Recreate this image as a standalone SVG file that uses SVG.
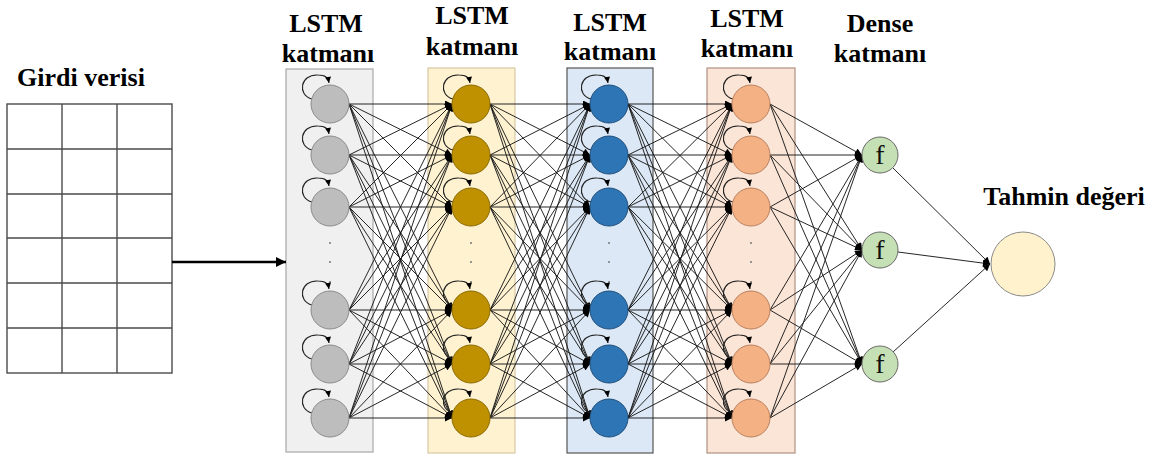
<svg xmlns="http://www.w3.org/2000/svg" xmlns:xlink="http://www.w3.org/1999/xlink" width="1159" height="455" viewBox="0 0 1159 455">
<style>
.lbl{font-family:"Liberation Serif","Times New Roman",serif;font-weight:bold;font-size:26px;fill:#000;text-anchor:middle}
.ftxt{font-family:"Liberation Serif","Times New Roman",serif;font-size:28px;fill:#111;text-anchor:middle}
.grid{fill:none;stroke:#4a4a4a;stroke-width:1.4}
.cn line{stroke:#1a1a1a;stroke-width:0.95;marker-end:url(#ah)}
.g{fill:#bdbdbd;stroke:#8a8a8a;stroke-width:1}
.y{fill:#bf9000;stroke:#8a6a00;stroke-width:1}
.b{fill:#2e75b6;stroke:#1f4e79;stroke-width:1}
.o{fill:#f4b183;stroke:#b88060;stroke-width:1}
.f{fill:#c5e0b4;stroke:#6a6a6a;stroke-width:1}
.dot{fill:#777}
</style>
<defs>
<marker id="ah" viewBox="0 0 10 10" refX="10" refY="5" markerWidth="8" markerHeight="7" markerUnits="userSpaceOnUse" orient="auto"><path d="M0,0 L10,5 L0,10 z" fill="#000"/></marker>
<marker id="la" viewBox="0 0 10 10" refX="10" refY="5" markerWidth="7" markerHeight="6" markerUnits="userSpaceOnUse" orient="auto"><path d="M0,0 L10,5 L0,10 z" fill="#000"/></marker>
<marker id="big" viewBox="0 0 10 10" refX="10" refY="5" markerWidth="12" markerHeight="10" markerUnits="userSpaceOnUse" orient="auto"><path d="M0,0 L10,5 L0,10 z" fill="#000"/></marker>
<path id="loop" d="M-18,-5 C-33,-9 -30,-30 -12,-29 C-5,-29 -2,-27 -1,-21" fill="none" stroke="#222" stroke-width="1.1" marker-end="url(#la)"/>
</defs>
<rect width="1159" height="455" fill="#fff"/>

<g id="labels">
<text class="lbl" x="81" y="86">Girdi verisi</text>
<text class="lbl" x="326" y="32">LSTM</text>
<text class="lbl" x="328" y="62">katmanı</text>
<text class="lbl" x="472" y="24">LSTM</text>
<text class="lbl" x="472" y="55">katmanı</text>
<text class="lbl" x="610" y="31">LSTM</text>
<text class="lbl" x="610" y="60">katmanı</text>
<text class="lbl" x="747" y="27">LSTM</text>
<text class="lbl" x="747" y="57">katmanı</text>
<text class="lbl" x="880" y="32">Dense</text>
<text class="lbl" x="880" y="62">katmanı</text>
<text class="lbl" x="1064" y="205">Tahmin değeri</text>
</g>

<g id="input-grid">
<rect class="grid" x="7" y="104" width="165" height="269"/>
<line class="grid" x1="62" y1="104" x2="62" y2="373"/>
<line class="grid" x1="117" y1="104" x2="117" y2="373"/>
<line class="grid" x1="7" y1="149" x2="172" y2="149"/>
<line class="grid" x1="7" y1="194" x2="172" y2="194"/>
<line class="grid" x1="7" y1="238" x2="172" y2="238"/>
<line class="grid" x1="7" y1="283" x2="172" y2="283"/>
<line class="grid" x1="7" y1="328" x2="172" y2="328"/>
</g>

<g id="layer-boxes">
<rect x="286" y="69" width="87" height="383" fill="#f0f0f0" stroke="#a8a8a8" stroke-width="1.2"/>
<rect x="428" y="68" width="87" height="385" fill="#fef2d0" stroke="#d8c9a4" stroke-width="1.2"/>
<rect x="567" y="68" width="86" height="385" fill="#dce8f5" stroke="#555" stroke-width="1.2"/>
<rect x="707" y="68" width="88" height="385" fill="#fbe5d6" stroke="#b09080" stroke-width="1.2"/>
</g>

<g id="connectors" class="cn">
<line x1="172" y1="262" x2="286" y2="262" style="stroke:#000;stroke-width:2.5;marker-end:url(#big)"/>
<line x1="349" y1="104" x2="452" y2="104"/><line x1="349" y1="104" x2="452" y2="155"/><line x1="349" y1="104" x2="452" y2="207"/><line x1="349" y1="104" x2="452" y2="310"/><line x1="349" y1="104" x2="452" y2="364"/><line x1="349" y1="104" x2="452" y2="418"/>
<line x1="349" y1="155" x2="452" y2="104"/><line x1="349" y1="155" x2="452" y2="155"/><line x1="349" y1="155" x2="452" y2="207"/><line x1="349" y1="155" x2="452" y2="310"/><line x1="349" y1="155" x2="452" y2="364"/><line x1="349" y1="155" x2="452" y2="418"/>
<line x1="349" y1="207" x2="452" y2="104"/><line x1="349" y1="207" x2="452" y2="155"/><line x1="349" y1="207" x2="452" y2="207"/><line x1="349" y1="207" x2="452" y2="310"/><line x1="349" y1="207" x2="452" y2="364"/><line x1="349" y1="207" x2="452" y2="418"/>
<line x1="349" y1="310" x2="452" y2="104"/><line x1="349" y1="310" x2="452" y2="155"/><line x1="349" y1="310" x2="452" y2="207"/><line x1="349" y1="310" x2="452" y2="310"/><line x1="349" y1="310" x2="452" y2="364"/><line x1="349" y1="310" x2="452" y2="418"/>
<line x1="349" y1="364" x2="452" y2="104"/><line x1="349" y1="364" x2="452" y2="155"/><line x1="349" y1="364" x2="452" y2="207"/><line x1="349" y1="364" x2="452" y2="310"/><line x1="349" y1="364" x2="452" y2="364"/><line x1="349" y1="364" x2="452" y2="418"/>
<line x1="349" y1="418" x2="452" y2="104"/><line x1="349" y1="418" x2="452" y2="155"/><line x1="349" y1="418" x2="452" y2="207"/><line x1="349" y1="418" x2="452" y2="310"/><line x1="349" y1="418" x2="452" y2="364"/><line x1="349" y1="418" x2="452" y2="418"/>

<line x1="490" y1="104" x2="590" y2="104"/><line x1="490" y1="104" x2="590" y2="155"/><line x1="490" y1="104" x2="590" y2="207"/><line x1="490" y1="104" x2="590" y2="310"/><line x1="490" y1="104" x2="590" y2="364"/><line x1="490" y1="104" x2="590" y2="418"/>
<line x1="490" y1="155" x2="590" y2="104"/><line x1="490" y1="155" x2="590" y2="155"/><line x1="490" y1="155" x2="590" y2="207"/><line x1="490" y1="155" x2="590" y2="310"/><line x1="490" y1="155" x2="590" y2="364"/><line x1="490" y1="155" x2="590" y2="418"/>
<line x1="490" y1="207" x2="590" y2="104"/><line x1="490" y1="207" x2="590" y2="155"/><line x1="490" y1="207" x2="590" y2="207"/><line x1="490" y1="207" x2="590" y2="310"/><line x1="490" y1="207" x2="590" y2="364"/><line x1="490" y1="207" x2="590" y2="418"/>
<line x1="490" y1="310" x2="590" y2="104"/><line x1="490" y1="310" x2="590" y2="155"/><line x1="490" y1="310" x2="590" y2="207"/><line x1="490" y1="310" x2="590" y2="310"/><line x1="490" y1="310" x2="590" y2="364"/><line x1="490" y1="310" x2="590" y2="418"/>
<line x1="490" y1="364" x2="590" y2="104"/><line x1="490" y1="364" x2="590" y2="155"/><line x1="490" y1="364" x2="590" y2="207"/><line x1="490" y1="364" x2="590" y2="310"/><line x1="490" y1="364" x2="590" y2="364"/><line x1="490" y1="364" x2="590" y2="418"/>
<line x1="490" y1="418" x2="590" y2="104"/><line x1="490" y1="418" x2="590" y2="155"/><line x1="490" y1="418" x2="590" y2="207"/><line x1="490" y1="418" x2="590" y2="310"/><line x1="490" y1="418" x2="590" y2="364"/><line x1="490" y1="418" x2="590" y2="418"/>

<line x1="628" y1="104" x2="732" y2="104"/><line x1="628" y1="104" x2="732" y2="155"/><line x1="628" y1="104" x2="732" y2="207"/><line x1="628" y1="104" x2="732" y2="310"/><line x1="628" y1="104" x2="732" y2="364"/><line x1="628" y1="104" x2="732" y2="418"/>
<line x1="628" y1="155" x2="732" y2="104"/><line x1="628" y1="155" x2="732" y2="155"/><line x1="628" y1="155" x2="732" y2="207"/><line x1="628" y1="155" x2="732" y2="310"/><line x1="628" y1="155" x2="732" y2="364"/><line x1="628" y1="155" x2="732" y2="418"/>
<line x1="628" y1="207" x2="732" y2="104"/><line x1="628" y1="207" x2="732" y2="155"/><line x1="628" y1="207" x2="732" y2="207"/><line x1="628" y1="207" x2="732" y2="310"/><line x1="628" y1="207" x2="732" y2="364"/><line x1="628" y1="207" x2="732" y2="418"/>
<line x1="628" y1="310" x2="732" y2="104"/><line x1="628" y1="310" x2="732" y2="155"/><line x1="628" y1="310" x2="732" y2="207"/><line x1="628" y1="310" x2="732" y2="310"/><line x1="628" y1="310" x2="732" y2="364"/><line x1="628" y1="310" x2="732" y2="418"/>
<line x1="628" y1="364" x2="732" y2="104"/><line x1="628" y1="364" x2="732" y2="155"/><line x1="628" y1="364" x2="732" y2="207"/><line x1="628" y1="364" x2="732" y2="310"/><line x1="628" y1="364" x2="732" y2="364"/><line x1="628" y1="364" x2="732" y2="418"/>
<line x1="628" y1="418" x2="732" y2="104"/><line x1="628" y1="418" x2="732" y2="155"/><line x1="628" y1="418" x2="732" y2="207"/><line x1="628" y1="418" x2="732" y2="310"/><line x1="628" y1="418" x2="732" y2="364"/><line x1="628" y1="418" x2="732" y2="418"/>

<line x1="770" y1="104" x2="862" y2="155"/><line x1="770" y1="104" x2="862" y2="250"/><line x1="770" y1="104" x2="862" y2="364"/>
<line x1="770" y1="155" x2="862" y2="155"/><line x1="770" y1="155" x2="862" y2="250"/><line x1="770" y1="155" x2="862" y2="364"/>
<line x1="770" y1="207" x2="862" y2="155"/><line x1="770" y1="207" x2="862" y2="250"/><line x1="770" y1="207" x2="862" y2="364"/>
<line x1="770" y1="310" x2="862" y2="155"/><line x1="770" y1="310" x2="862" y2="250"/><line x1="770" y1="310" x2="862" y2="364"/>
<line x1="770" y1="364" x2="862" y2="155"/><line x1="770" y1="364" x2="862" y2="250"/><line x1="770" y1="364" x2="862" y2="364"/>
<line x1="770" y1="418" x2="862" y2="155"/><line x1="770" y1="418" x2="862" y2="250"/><line x1="770" y1="418" x2="862" y2="364"/>

<line x1="893" y1="168" x2="990" y2="264"/>
<line x1="898" y1="252" x2="990" y2="264"/>
<line x1="893" y1="352" x2="990" y2="264"/>
</g>

<g id="layer1">
<g id="l1n1"><use xlink:href="#loop" transform="translate(330,104)"/><circle class="g" cx="330" cy="104" r="19"/></g>
<g id="l1n2"><use xlink:href="#loop" transform="translate(330,155)"/><circle class="g" cx="330" cy="155" r="19"/></g>
<g id="l1n3"><use xlink:href="#loop" transform="translate(330,207)"/><circle class="g" cx="330" cy="207" r="19"/></g>
<g id="l1dots"><circle class="dot" cx="330" cy="243" r="1"/><circle class="dot" cx="330" cy="262" r="1"/><circle class="dot" cx="330" cy="282" r="1"/></g>
<g id="l1n4"><use xlink:href="#loop" transform="translate(330,310)"/><circle class="g" cx="330" cy="310" r="19"/></g>
<g id="l1n5"><use xlink:href="#loop" transform="translate(330,364)"/><circle class="g" cx="330" cy="364" r="19"/></g>
<g id="l1n6"><use xlink:href="#loop" transform="translate(330,418)"/><circle class="g" cx="330" cy="418" r="19"/></g>
</g>

<g id="layer2">
<g id="l2n1"><use xlink:href="#loop" transform="translate(471,104)"/><circle class="y" cx="471" cy="104" r="19"/></g>
<g id="l2n2"><use xlink:href="#loop" transform="translate(471,155)"/><circle class="y" cx="471" cy="155" r="19"/></g>
<g id="l2n3"><use xlink:href="#loop" transform="translate(471,207)"/><circle class="y" cx="471" cy="207" r="19"/></g>
<g id="l2dots"><circle class="dot" cx="471" cy="243" r="1"/><circle class="dot" cx="471" cy="262" r="1"/><circle class="dot" cx="471" cy="282" r="1"/></g>
<g id="l2n4"><use xlink:href="#loop" transform="translate(471,310)"/><circle class="y" cx="471" cy="310" r="19"/></g>
<g id="l2n5"><use xlink:href="#loop" transform="translate(471,364)"/><circle class="y" cx="471" cy="364" r="19"/></g>
<g id="l2n6"><use xlink:href="#loop" transform="translate(471,418)"/><circle class="y" cx="471" cy="418" r="19"/></g>
</g>

<g id="layer3">
<g id="l3n1"><use xlink:href="#loop" transform="translate(609,104)"/><circle class="b" cx="609" cy="104" r="19"/></g>
<g id="l3n2"><use xlink:href="#loop" transform="translate(609,155)"/><circle class="b" cx="609" cy="155" r="19"/></g>
<g id="l3n3"><use xlink:href="#loop" transform="translate(609,207)"/><circle class="b" cx="609" cy="207" r="19"/></g>
<g id="l3dots"><circle class="dot" cx="609" cy="243" r="1"/><circle class="dot" cx="609" cy="262" r="1"/><circle class="dot" cx="609" cy="282" r="1"/></g>
<g id="l3n4"><use xlink:href="#loop" transform="translate(609,310)"/><circle class="b" cx="609" cy="310" r="19"/></g>
<g id="l3n5"><use xlink:href="#loop" transform="translate(609,364)"/><circle class="b" cx="609" cy="364" r="19"/></g>
<g id="l3n6"><use xlink:href="#loop" transform="translate(609,418)"/><circle class="b" cx="609" cy="418" r="19"/></g>
</g>

<g id="layer4">
<g id="l4n1"><use xlink:href="#loop" transform="translate(751,104)"/><circle class="o" cx="751" cy="104" r="19"/></g>
<g id="l4n2"><use xlink:href="#loop" transform="translate(751,155)"/><circle class="o" cx="751" cy="155" r="19"/></g>
<g id="l4n3"><use xlink:href="#loop" transform="translate(751,207)"/><circle class="o" cx="751" cy="207" r="19"/></g>
<g id="l4dots"><circle class="dot" cx="751" cy="243" r="1"/><circle class="dot" cx="751" cy="262" r="1"/><circle class="dot" cx="751" cy="282" r="1"/></g>
<g id="l4n4"><use xlink:href="#loop" transform="translate(751,310)"/><circle class="o" cx="751" cy="310" r="19"/></g>
<g id="l4n5"><use xlink:href="#loop" transform="translate(751,364)"/><circle class="o" cx="751" cy="364" r="19"/></g>
<g id="l4n6"><use xlink:href="#loop" transform="translate(751,418)"/><circle class="o" cx="751" cy="418" r="19"/></g>
</g>

<g id="dense">
<g id="d1"><circle class="f" cx="880" cy="155" r="18"/><text class="ftxt" x="880" y="164">f</text></g>
<g id="d2"><circle class="f" cx="880" cy="250" r="18"/><text class="ftxt" x="880" y="259">f</text></g>
<g id="d3"><circle class="f" cx="880" cy="364" r="18"/><text class="ftxt" x="880" y="373">f</text></g>
</g>

<g id="output">
<circle cx="1023" cy="264" r="32" fill="#fff2cc" stroke="#8a8a8a" stroke-width="1"/>
</g>
</svg>
